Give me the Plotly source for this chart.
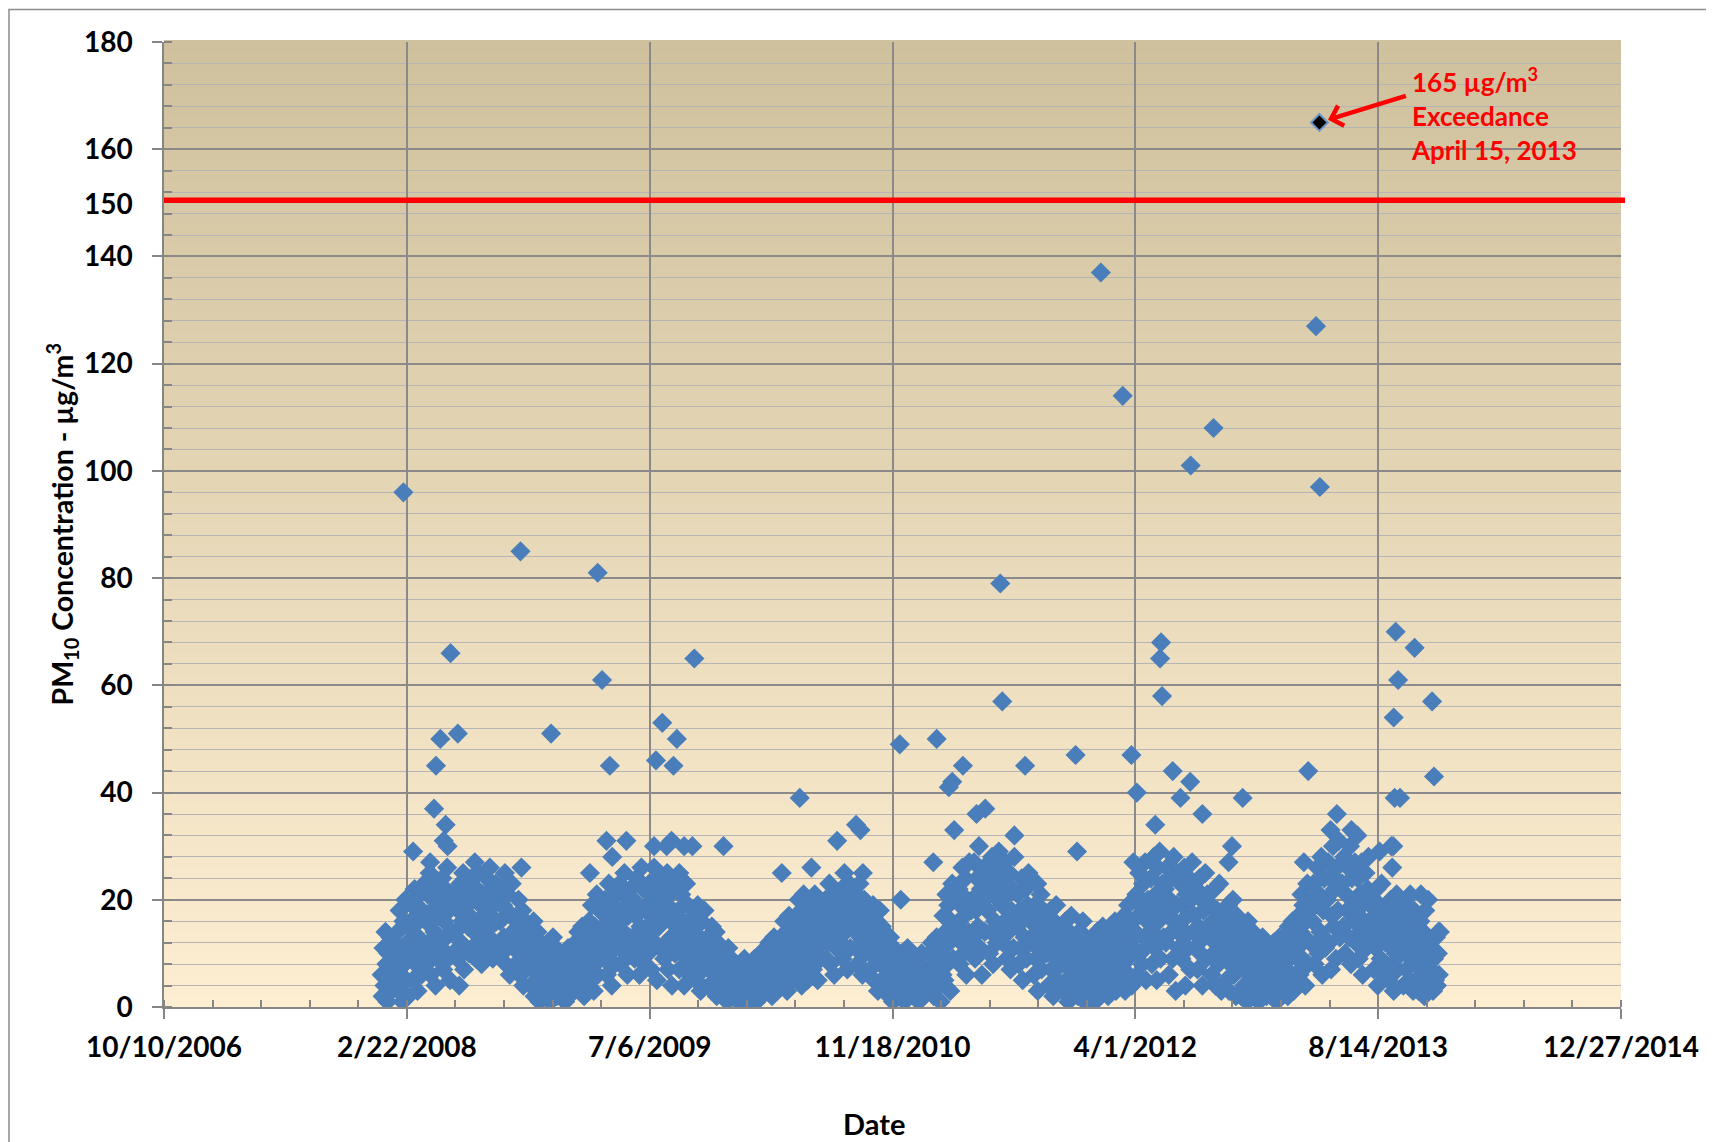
import plotly.graph_objects as go
import pandas as pd

# ---------------- DATA ----------------
# Routine PM10 samples (ug/m3): one list per month, readings on these days of the month
SAMPLE_DAYS = [1, 3, 5, 7, 9, 11, 13, 15, 17, 19, 21, 23, 25, 27, 29]
FIRST_MONTH = "2008-01-01"

pm10_2008 = [
    [6, 2, 11, 4, 14, 8, 1, 10, 5, 13, 3, 9, 7, 12, 4],
    [9, 14, 3, 18, 6, 11, 1, 16, 8, 20, 5, 12, 2, 15, 10],
    [12, 19, 5, 15, 22, 8, 17, 3, 13, 21, 10, 6, 18, 11, 23],
    [16, 8, 21, 12, 25, 6, 18, 10, 23, 14, 4, 20, 9, 17, 13],
    [19, 11, 24, 7, 16, 22, 13, 26, 9, 18, 5, 21, 14, 10, 20],
    [14, 21, 9, 18, 4, 23, 12, 16, 25, 7, 19, 11, 22, 15, 10],
    [17, 24, 11, 20, 14, 27, 9, 22, 16, 25, 12, 19, 8, 21, 15],
    [20, 13, 24, 10, 17, 26, 15, 22, 9, 19, 12, 23, 16, 11, 21],
    [16, 22, 10, 19, 13, 25, 8, 18, 21, 12, 6, 17, 23, 14, 11],
    [13, 8, 17, 11, 20, 6, 15, 10, 18, 4, 12, 16, 7, 14, 9],
    [9, 4, 13, 7, 16, 2, 11, 5, 14, 8, 1, 12, 6, 10, 3],
    [6, 10, 2, 8, 12, 4, 1, 9, 5, 13, 3, 7, 11, 2, 6],
]
pm10_2009 = [
    [4, 8, 2, 6, 10, 3, 1, 7, 5, 11, 2, 9, 4, 6, 3],
    [7, 12, 4, 9, 14, 3, 11, 6, 15, 8, 2, 10, 5, 13, 7],
    [11, 16, 5, 13, 19, 8, 3, 15, 10, 21, 6, 14, 18, 9, 12],
    [15, 9, 20, 12, 6, 17, 23, 10, 14, 4, 19, 13, 8, 21, 16],
    [18, 12, 23, 8, 16, 21, 14, 25, 10, 19, 6, 17, 13, 22, 11],
    [13, 20, 9, 17, 24, 11, 19, 6, 15, 26, 12, 22, 8, 18, 14],
    [19, 10, 23, 14, 7, 21, 16, 26, 12, 18, 5, 24, 15, 11, 20],
    [16, 22, 9, 19, 12, 25, 7, 17, 21, 13, 4, 18, 23, 10, 15],
    [12, 18, 7, 15, 21, 10, 16, 4, 13, 23, 9, 19, 11, 6, 14],
    [14, 8, 17, 11, 5, 15, 19, 9, 13, 3, 16, 10, 7, 18, 12],
    [9, 13, 4, 11, 7, 15, 3, 10, 6, 14, 2, 12, 8, 5, 11],
    [5, 8, 2, 10, 4, 7, 1, 11, 6, 3, 9, 2, 7, 4, 8],
]
pm10_2010 = [
    [3, 6, 1, 5, 8, 2, 7, 4, 9, 2, 5, 1, 6, 3, 4],
    [4, 7, 2, 9, 5, 1, 8, 3, 6, 10, 2, 5, 7, 3, 4],
    [6, 10, 3, 8, 12, 4, 9, 2, 7, 13, 5, 11, 3, 8, 6],
    [9, 13, 4, 11, 16, 6, 14, 3, 10, 17, 7, 12, 5, 15, 8],
    [12, 17, 6, 14, 20, 9, 16, 4, 11, 21, 8, 18, 13, 5, 15],
    [15, 10, 19, 7, 13, 21, 11, 17, 5, 14, 20, 9, 16, 12, 18],
    [14, 20, 9, 17, 12, 23, 8, 18, 15, 21, 6, 16, 11, 19, 13],
    [18, 12, 22, 9, 16, 25, 14, 20, 7, 17, 23, 11, 19, 15, 21],
    [17, 11, 21, 8, 15, 23, 13, 19, 6, 16, 20, 10, 18, 14, 12],
    [13, 7, 17, 10, 19, 5, 14, 9, 16, 3, 12, 18, 8, 15, 11],
    [8, 4, 12, 6, 10, 2, 13, 5, 9, 1, 11, 7, 3, 9, 6],
    [5, 8, 2, 10, 4, 7, 1, 9, 3, 11, 6, 2, 8, 4, 5],
]
pm10_2011 = [
    [4, 7, 2, 9, 5, 1, 8, 3, 10, 6, 2, 7, 4, 5, 3],
    [6, 10, 3, 12, 8, 2, 11, 5, 13, 7, 4, 9, 1, 10, 6],
    [11, 17, 5, 14, 21, 8, 19, 12, 3, 16, 23, 9, 15, 20, 13],
    [15, 22, 8, 19, 12, 26, 10, 17, 24, 6, 20, 14, 27, 11, 18],
    [20, 13, 27, 9, 18, 24, 15, 30, 11, 22, 6, 19, 26, 14, 23],
    [18, 25, 10, 21, 14, 28, 8, 23, 16, 26, 12, 20, 29, 15, 22],
    [19, 12, 24, 16, 27, 9, 21, 14, 25, 7, 18, 22, 11, 28, 17],
    [15, 21, 8, 18, 11, 24, 5, 17, 13, 22, 9, 19, 25, 12, 16],
    [12, 17, 6, 19, 9, 14, 3, 16, 11, 21, 7, 13, 18, 10, 15],
    [10, 15, 4, 12, 18, 7, 13, 2, 16, 9, 19, 5, 11, 14, 8],
    [8, 13, 3, 11, 16, 5, 9, 1, 14, 7, 17, 4, 12, 10, 6],
    [7, 12, 2, 14, 9, 4, 11, 16, 6, 1, 13, 8, 3, 10, 5],
]
pm10_2012 = [
    [8, 3, 12, 6, 1, 10, 14, 5, 9, 2, 13, 7, 15, 4, 11],
    [7, 12, 2, 10, 15, 4, 8, 13, 5, 16, 3, 11, 6, 14, 9],
    [10, 5, 15, 8, 17, 3, 13, 9, 19, 6, 12, 16, 4, 11, 14],
    [14, 21, 6, 17, 25, 10, 19, 8, 23, 13, 27, 5, 16, 20, 12],
    [18, 24, 8, 14, 28, 11, 21, 5, 26, 16, 29, 9, 19, 23, 13],
    [22, 12, 26, 17, 6, 20, 24, 14, 9, 28, 16, 3, 19, 25, 11],
    [15, 23, 9, 19, 13, 26, 4, 21, 17, 11, 24, 7, 20, 27, 14],
    [17, 11, 22, 7, 15, 24, 10, 20, 4, 18, 13, 25, 9, 21, 14],
    [13, 19, 6, 16, 10, 22, 4, 12, 18, 8, 23, 14, 3, 17, 11],
    [10, 15, 5, 13, 19, 3, 8, 16, 11, 20, 6, 14, 2, 17, 9],
    [7, 12, 2, 10, 15, 4, 9, 13, 1, 16, 6, 11, 3, 8, 14],
    [5, 9, 2, 11, 6, 1, 12, 4, 8, 13, 3, 10, 7, 2, 6],
]
pm10_2013 = [
    [6, 3, 10, 2, 8, 12, 4, 7, 1, 11, 5, 13, 9, 3, 7],
    [8, 4, 13, 7, 2, 15, 11, 5, 10, 16, 3, 12, 6, 14, 9],
    [11, 17, 6, 14, 21, 9, 19, 13, 4, 16, 23, 8, 18, 12, 20],
    [16, 23, 8, 19, 12, 26, 10, 21, 14, 28, 6, 18, 24, 11, 20],
    [20, 27, 12, 24, 7, 17, 30, 15, 22, 9, 26, 18, 31, 13, 23],
    [23, 15, 28, 10, 21, 18, 26, 13, 30, 8, 24, 19, 16, 27, 12],
    [18, 24, 9, 21, 14, 27, 6, 20, 16, 25, 11, 22, 28, 13, 19],
    [14, 20, 7, 17, 11, 22, 4, 13, 19, 9, 23, 15, 6, 18, 12],
    [12, 17, 5, 15, 20, 8, 14, 3, 18, 10, 21, 7, 16, 11, 13],
    [10, 15, 4, 13, 19, 7, 12, 17, 5, 21, 9, 14, 3, 18, 11],
    [8, 13, 3, 11, 16, 6, 10, 14, 2, 18, 5, 12, 20, 7, 9],
    [7, 11, 3, 9, 5, 13, 4, 10, 6, 14],
]

# Higher individual readings
peak_dates = [
    "2008-02-15", "2008-03-06", "2008-04-10", "2008-04-18", "2008-04-22", "2008-05-01",
    "2008-05-08", "2008-05-12", "2008-05-16", "2008-05-22", "2008-06-06", "2008-10-13",
    "2008-10-15", "2008-12-15", "2009-03-05", "2009-03-21", "2009-03-30", "2009-04-08",
    "2009-04-15", "2009-04-20", "2009-05-19", "2009-07-15", "2009-07-19", "2009-08-01",
    "2009-08-10", "2009-08-20", "2009-08-24", "2009-08-31", "2009-09-05", "2009-09-15",
    "2009-10-02", "2009-10-06", "2009-12-05", "2010-04-04", "2010-05-11", "2010-06-04",
    "2010-07-27", "2010-09-04", "2010-09-13", "2010-09-18", "2010-12-03", "2010-12-05",
    "2011-02-10", "2011-02-17", "2011-03-14", "2011-03-21", "2011-03-25", "2011-04-12",
    "2011-05-10", "2011-05-28", "2011-06-28", "2011-07-02", "2011-07-27", "2011-08-18",
    "2011-09-12", "2011-11-30", "2011-12-03", "2012-01-21", "2012-03-06", "2012-03-24",
    "2012-03-28", "2012-04-04", "2012-05-12", "2012-05-22", "2012-05-24", "2012-05-26",
    "2012-06-17", "2012-07-03", "2012-07-23", "2012-07-24", "2012-08-17", "2012-09-09",
    "2012-10-10", "2012-10-17", "2012-11-08", "2013-03-14", "2013-03-23", "2013-04-08",
    "2013-04-16", "2013-05-08", "2013-05-21", "2013-06-20", "2013-07-02", "2013-08-17",
    "2013-09-10", "2013-09-12", "2013-09-14", "2013-09-15", "2013-09-17", "2013-09-19",
    "2013-09-24", "2013-09-28", "2013-10-28", "2013-11-10", "2013-12-03", "2013-12-07",
    "2013-12-16",
]
peak_values = [
    96, 29, 27, 37, 45, 50,
    31, 34, 30, 66, 51, 85,
    26, 51, 25, 81, 61, 31,
    45, 28, 31, 30, 46, 53,
    30, 31, 45, 50, 25, 30,
    30, 65, 30, 25, 39, 26,
    31, 34, 33, 25, 49, 20,
    27, 50, 41, 42, 33, 45,
    36, 37, 79, 57, 32, 45,
    23, 47, 29, 137, 114, 47,
    27, 40, 34, 65, 68, 58,
    44, 39, 42, 101, 36, 108,
    27, 30, 39, 27, 44, 127,
    97, 33, 36, 33, 32, 29,
    30, 26, 30, 54, 39, 70,
    61, 39, 67, 21, 57, 43,
    14,
]

# Exceedance event
exceed_date = "2013-04-15"
exceed_value = 165
exceed_label = "165 µg/m<sup>3</sup><br>Exceedance<br>April 15, 2013"

# 24-hour standard line (as drawn)
standard_level = 150.5
standard_label = "150"

x_range = ["2006-10-10", "2014-12-27"]
y_range = [0, 180]
x_major_days = 500
x_minor_days = 100

# ---------------- BUILD ----------------
DAY_MS = 86400000
bulk_x, bulk_y = [], []
all_months = pm10_2008 + pm10_2009 + pm10_2010 + pm10_2011 + pm10_2012 + pm10_2013
months = pd.date_range(FIRST_MONTH, periods=len(all_months), freq="MS")
for m, vals in zip(months, all_months):
    for d, v in zip(SAMPLE_DAYS, vals):
        bulk_x.append(m + pd.Timedelta(days=d - 1))
        bulk_y.append(v)

FONT = "Lato, 'Open Sans', 'DejaVu Sans', sans-serif"
BLUE = "#4A7EBB"

# page has an 8px body margin; figure sized so the page is 1714x1142
PAGE_OFF = 8
W, H = 1714 - PAGE_OFF, 1142 - PAGE_OFF
PLOT_L, PLOT_R, PLOT_T, PLOT_B = 164, 1621, 42, 1007   # page pixels
L = PLOT_L - PAGE_OFF
T = PLOT_T - PAGE_OFF
R = 1714 - PLOT_R
B = 1142 - PLOT_B
PW, PH = PLOT_R - PLOT_L, PLOT_B - PLOT_T


def px(xp):
    return (xp - PLOT_L) / PW


def py(yp):
    return (PLOT_B - yp) / PH


fig = go.Figure()
fig.add_trace(go.Scatter(
    x=bulk_x + [pd.Timestamp(d) for d in peak_dates],
    y=bulk_y + peak_values,
    mode="markers",
    marker=dict(symbol="diamond", size=15.5, color=BLUE, line=dict(width=0)),
    showlegend=False, hoverinfo="x+y",
))
fig.add_trace(go.Scatter(
    x=[exceed_date], y=[exceed_value], mode="markers",
    marker=dict(symbol="diamond", size=13, color="black",
                line=dict(width=2, color="#6F97CC")),
    showlegend=False,
))

shapes = []
# vertical gradient background of plot area
top_rgb = (207, 193, 157)
bot_rgb = (253, 238, 210)
n = 90
for i in range(n):
    f = i / (n - 1)
    c = tuple(round(bot_rgb[k] + (top_rgb[k] - bot_rgb[k]) * f) for k in range(3))
    shapes.append(dict(type="rect", xref="paper", yref="paper", layer="below",
                       x0=0, x1=1, y0=i / n, y1=(i + 1) / n + 0.002,
                       fillcolor="rgb(%d,%d,%d)" % c, line=dict(width=0)))
# standard line
shapes.append(dict(type="line", xref="paper", yref="y", x0=0, x1=px(1625),
                   y0=standard_level, y1=standard_level,
                   line=dict(color="#FF0000", width=5.5)))
# outer chart frame
shapes.append(dict(type="rect", xref="paper", yref="paper",
                   x0=px(9), x1=px(1740), y0=py(1170), y1=py(9.5),
                   line=dict(color="#8A8A8A", width=1.5), fillcolor="rgba(0,0,0,0)"))

annotations = [
    dict(x=exceed_date, y=exceed_value, xref="x", yref="y", text="",
         showarrow=True, arrowhead=4, arrowsize=0.9, arrowwidth=4.5,
         arrowcolor="#FF0000", ax=88, ay=-27, standoff=9),
    dict(x=px(1409), y=166.4, xref="paper", yref="y", text=exceed_label,
         showarrow=False, xanchor="left", yanchor="middle", align="left",
         font=dict(family=FONT, size=26, color="#FF0000", weight="bold")),
    dict(x=px(135), y=150, xref="paper", yref="y", text=standard_label,
         showarrow=False, xanchor="right", yanchor="middle",
         font=dict(family=FONT, size=28, color="black", weight="bold")),
    dict(x=px(62), y=0.5, xref="paper", yref="paper",
         text="PM<sub>10</sub> Concentration - µg/m<sup>3</sup>", textangle=-90,
         showarrow=False, xanchor="center", yanchor="middle",
         font=dict(family=FONT, size=28.5, color="black", weight="bold")),
    dict(x=px(874), y=py(1123), xref="paper", yref="paper",
         text="Date", showarrow=False, xanchor="center", yanchor="middle",
         font=dict(family=FONT, size=29, color="black", weight="bold")),
]

fig.update_layout(
    width=W, height=H, margin=dict(l=L, r=R, t=T, b=B),
    paper_bgcolor="white", plot_bgcolor="rgba(0,0,0,0)",
    shapes=shapes, annotations=annotations, showlegend=False,
    font=dict(family=FONT, color="black"),
)
fig.update_xaxes(
    type="date", range=x_range, tick0=x_range[0], dtick=x_major_days * DAY_MS,
    tickformat="%-m/%-d/%Y", ticks="outside", ticklen=10, tickcolor="#868686",
    tickwidth=1.5, showline=True, linecolor="#868686", linewidth=1.5,
    showgrid=True, gridcolor="#8A8A8A", gridwidth=1.5, zeroline=False,
    tickfont=dict(family=FONT, size=28, color="black", weight="bold"),
    ticklabelstandoff=5,
    minor=dict(tick0=x_range[0], dtick=x_minor_days * DAY_MS, ticks="inside",
               ticklen=7, tickcolor="#868686", tickwidth=1.5, showgrid=False),
)
fig.update_yaxes(
    range=y_range, tick0=0, dtick=20, ticks="outside", ticklen=10,
    tickcolor="#868686", tickwidth=1.5, showline=True, linecolor="#868686",
    linewidth=1.5, showgrid=True, gridcolor="#8A8A8A", gridwidth=1.5,
    zeroline=False,
    tickfont=dict(family=FONT, size=28, color="black", weight="bold"),
    ticklabelstandoff=14,
    minor=dict(tick0=0, dtick=4, ticks="inside", ticklen=8, tickcolor="#868686",
               tickwidth=1.5, showgrid=True, gridcolor="#B5B5B5", gridwidth=1.2),
)

fig.write_html("out.html")
